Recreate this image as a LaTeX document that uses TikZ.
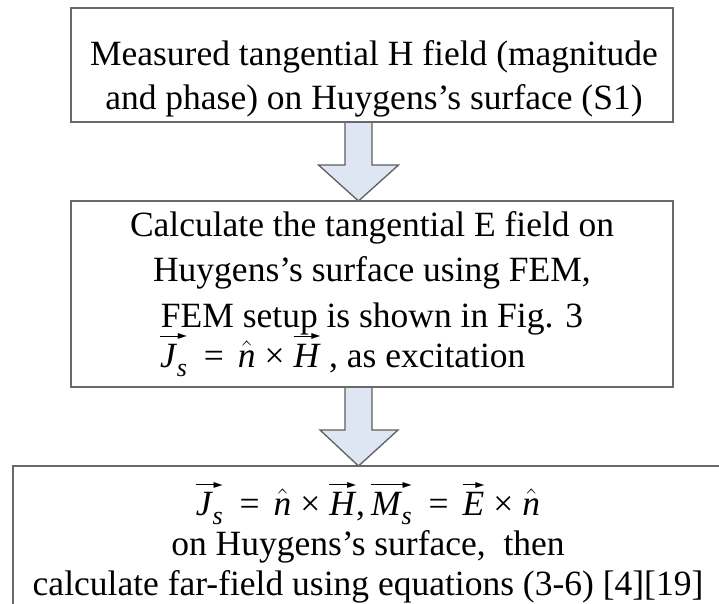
\RequirePackage{fix-cm}
\documentclass[tikz,border=0pt]{standalone}
\usepackage{fontspec}
\usepackage{amsmath}
\usepackage{graphicx}
\setmainfont{Liberation Serif}
\newfontfamily\djv{DejaVu Sans}
\usetikzlibrary{calc,backgrounds}
\definecolor{boxline}{RGB}{105,105,105}
\definecolor{arrowline}{RGB}{95,95,95}
\definecolor{arrowfill}{RGB}{222,229,243}
\newcommand\lstrut{\rule{0pt}{30pt}}
\newsavebox\varbox
\newcommand\varrow[1]{{\sbox\varbox{#1}\vbox{\offinterlineskip
  \hbox to \wd\varbox{\leaders\hrule height 1.5pt\hfill\kern-1.5pt\raisebox{-1.75pt}{\resizebox{9pt}{5pt}{\djv ▶}}}%
  \kern4pt\copy\varbox}}}
\newcommand\subsx{\raisebox{-9pt}{\fontsize{26}{26}\selectfont\itshape s}}
\newcommand\vJs{\varrow{{\itshape J}\kern1pt\subsx}}
\newcommand\vMs{\varrow{{\itshape M}\kern1pt\subsx}}
\newcommand\vH{\varrow{\itshape H\kern1pt}}
\newcommand\vE{\varrow{\itshape E}}
\newcommand\nhat{$\hat{\textit{n}}$}
\newcommand\eqs{\hspace{17pt}=\hspace{14pt}}
\newcommand\tms{\hspace{9pt}×\hspace{9pt}}
\newcommand\nolsk{\lineskiplimit -100pt\relax}
\newcommand\fontA{\fontsize{35.5}{44}\selectfont\nolsk}
\newcommand\fontB{\fontsize{35.5}{45.5}\selectfont\nolsk}
\newcommand\fontC{\fontsize{35.5}{40}\selectfont\nolsk}
\begin{document}
\begin{tikzpicture}[x=1pt,y=-1pt,
  box/.style={draw=boxline, line width=2pt, rectangle, inner sep=0pt, outer sep=0pt},
  txt/.style={inner sep=0pt, outer sep=0pt, anchor=north, align=center},
  line/.style={inner sep=0pt, outer sep=0pt, anchor=base west},
  blockarrow/.style={draw=arrowline, fill=arrowfill, line width=1.3pt, line join=miter}]
\useasboundingbox (0,0) rectangle (719,604);
\clip (0,0) rectangle (719,604);
% boxes
\node[box, minimum width=602pt, minimum height=114pt] (b1) at (372,65) {};
\node[box, minimum width=602pt, minimum height=186pt] (b2) at (372,294) {};
\node[box, minimum width=716pt, minimum height=184pt] (b3) at (371,558) {};
% texts
\node[txt, font=\fontA] (t1) at (374,35.5)
  {\lstrut Measured tangential H field (magnitude\\and phase) on Huygens’s surface (S1)};
\node[txt, font=\fontB] (t2) at (372,206)
  {\lstrut Calculate the tangential E field on\\Huygens’s surface using FEM,\\
   FEM setup is shown in Fig. 3};
\node[line, font=\fontB] (t2b) at (160,367)
  {\vJs\eqs\nhat\tms\vH\ , as excitation};
\node[txt, font=\fontC] (t3) at (368,482)
  {\lstrut \vJs\eqs\nhat\tms\vH,\hspace{6pt}\vMs\eqs\vE\tms\nhat\\
   on Huygens’s surface,\ \ then\\
   calculate far-field using equations (3-6) [4][19]};
% block arrows
\coordinate (a1) at ($(b1.south)+(-13.5,0)$);
\coordinate (a2) at ($(b2.south)+(-13.5,0)$);
\begin{pgfonlayer}{background}
\fill[white] (0,0) rectangle (719,604);
\draw[blockarrow] ($(a1)+(-13.5,0)$) -- ++(0,43) -- ++(-26.5,0) -- (a1 |- b2.north)
  -- ($(a1)+(40,43)$) -- ++(-26.5,0) -- ++(0,-43) -- cycle;
\draw[blockarrow] ($(a2)+(-13.5,0)$) -- ++(0,43) -- ++(-25,0) -- (a2 |- b3.north)
  -- ($(a2)+(39.5,43)$) -- ++(-26,0) -- ++(0,-43) -- cycle;
\end{pgfonlayer}
\end{tikzpicture}
\end{document}
